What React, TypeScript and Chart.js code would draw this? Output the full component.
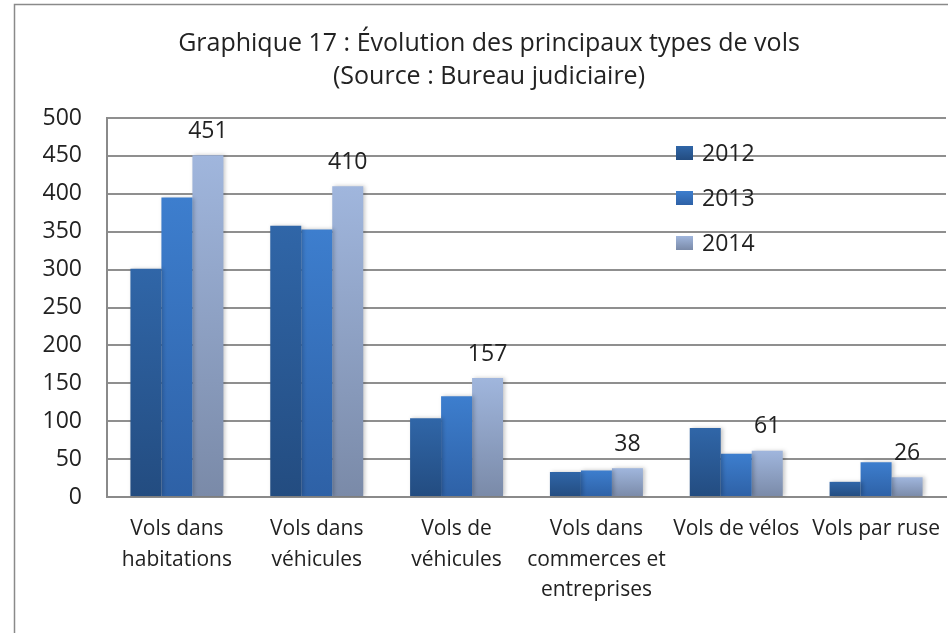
import React, { useEffect, useRef } from "react";
import { Chart, registerables } from "chart.js";

Chart.register(...registerables);

const categories: string[][] = [
  ["Vols dans", "habitations"],
  ["Vols dans", "véhicules"],
  ["Vols de", "véhicules"],
  ["Vols dans", "commerces et", "entreprises"],
  ["Vols de vélos"],
  ["Vols par ruse"],
];
const seriesLabels = ["2012", "2013", "2014"];
const values2012 = [301, 358, 104, 33, 91, 20];
const values2013 = [395, 353, 133, 35, 57, 46];
const values2014 = [451, 410, 157, 38, 61, 26];
const yTicks = [0, 50, 100, 150, 200, 250, 300, 350, 400, 450, 500];
const titleLines = ["Graphique 17 : Évolution des principaux types de vols", "(Source : Bureau judiciaire)"];

const gradStops: [string, string][] = [
  ["#3066A8", "#234C80"],
  ["#3D7ECE", "#2E61A6"],
  ["#A0B6DD", "#7A8AA8"],
];

const FONT = "'Open Sans', 'Noto Sans', sans-serif";

function barGradient(idx: number) {
  return (ctx: any) => {
    const chart = ctx.chart;
    const y = chart.scales?.y;
    if (!y || ctx.raw == null) return gradStops[idx][0];
    const top = y.getPixelForValue(ctx.raw);
    const bottom = y.getPixelForValue(0);
    if (!isFinite(top) || !isFinite(bottom) || top === bottom) return gradStops[idx][0];
    const g = chart.ctx.createLinearGradient(0, top, 0, bottom);
    g.addColorStop(0, gradStops[idx][0]);
    g.addColorStop(1, gradStops[idx][1]);
    return g;
  };
}

const framePlugin = {
  id: "frame",
  beforeDraw(chart: any) {
    const c = chart.ctx;
    c.save();
    c.fillStyle = "#ffffff";
    c.fillRect(0, 0, chart.width, chart.height);
    c.strokeStyle = "#8a8a8a";
    c.lineWidth = 1.5;
    c.strokeRect(14.5, 4.5, chart.width + 20, chart.height + 20);
    c.restore();
  },
};

const shadowPlugin = {
  id: "barShadow",
  beforeDatasetsDraw(chart: any) {
    const c = chart.ctx;
    c.save();
    c.shadowColor = "rgba(0,0,0,0.22)";
    c.shadowBlur = 4;
    c.shadowOffsetX = 2;
    c.shadowOffsetY = 0;
  },
  afterDatasetsDraw(chart: any) {
    chart.ctx.restore();
  },
};

const overlayPlugin = {
  id: "overlay",
  afterDatasetsDraw(chart: any) {
    const c = chart.ctx;
    const area = chart.chartArea;
    c.save();
    const meta = chart.getDatasetMeta(2);
    c.font = `23px ${FONT}`;
    c.fillStyle = "#222222";
    c.textAlign = "center";
    c.textBaseline = "middle";
    meta.data.forEach((el: any, i: number) => {
      c.fillText(String(values2014[i]), el.x, el.y - 24);
    });
    const offsets = [35, 80, 125];
    c.textAlign = "left";
    c.font = `23px ${FONT}`;
    seriesLabels.forEach((lab, i) => {
      const bx = area.left + 569;
      const cy = area.top + offsets[i];
      const g = c.createLinearGradient(0, cy - 7, 0, cy + 7);
      g.addColorStop(0, gradStops[i][0]);
      g.addColorStop(1, gradStops[i][1]);
      c.fillStyle = g;
      c.fillRect(bx, cy - 7, 17, 14);
      c.fillStyle = "#222222";
      c.fillText(lab, bx + 26, cy + 1);
    });
    c.restore();
  },
};

export default function App() {
  const ref = useRef<HTMLCanvasElement>(null);
  useEffect(() => {
    if (!ref.current) return;
    const chart = new Chart(ref.current, {
      type: "bar",
      data: {
        labels: categories,
        datasets: [
          { label: seriesLabels[0], data: values2012, backgroundColor: barGradient(0) },
          { label: seriesLabels[1], data: values2013, backgroundColor: barGradient(1) },
          { label: seriesLabels[2], data: values2014, backgroundColor: barGradient(2) },
        ],
      },
      options: {
        animation: false,
        responsive: false,
        devicePixelRatio: 1,
        layout: { padding: { left: 32, right: 2, top: 0, bottom: 0 } },
        datasets: { bar: { barPercentage: 1, categoryPercentage: 0.665 } },
        plugins: {
          legend: { display: false },
          tooltip: { enabled: false },
          title: {
            display: true,
            text: titleLines,
            color: "#222222",
            font: { family: FONT, size: 25, weight: "normal", lineHeight: 1.3 },
            padding: { top: 28, bottom: 25 },
          },
        },
        scales: {
          x: {
            grid: { display: false, drawTicks: false },
            border: { display: true, color: "#8a8a8a", width: 2 },
            ticks: {
              color: "#222222",
              font: { family: FONT, size: 21, lineHeight: 1.45 },
              padding: 17,
              maxRotation: 0,
              autoSkip: false,
            },
            afterFit(scale: any) {
              scale.height = 136;
              scale.paddingLeft = 0;
              scale.paddingRight = 0;
            },
          },
          y: {
            min: 0,
            max: 500,
            afterBuildTicks(scale: any) {
              scale.ticks = yTicks.map((v) => ({ value: v }));
            },
            grid: { color: "#8f8f8f", lineWidth: 2, drawTicks: false },
            border: { display: true, color: "#8a8a8a", width: 2 },
            ticks: {
              color: "#222222",
              font: { family: FONT, size: 23 },
              padding: 25,
            },
            afterFit(scale: any) {
              scale.width = 75;
            },
          },
        },
      },
      plugins: [framePlugin, shadowPlugin, overlayPlugin],
    });
    return () => chart.destroy();
  }, []);
  return (
    <div style={{ position: "absolute", left: 0, top: 0, width: 948, height: 633 }}>
      <canvas ref={ref} width={948} height={633} style={{ width: 948, height: 633, display: "block" }} />
    </div>
  );
}
